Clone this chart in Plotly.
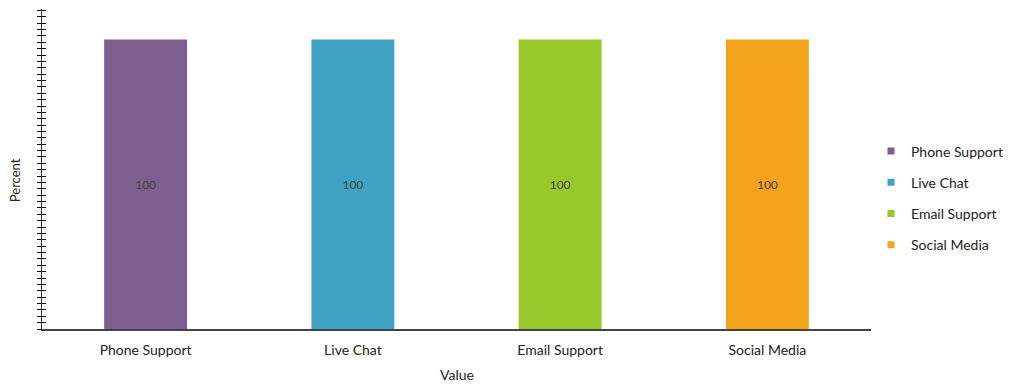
import plotly.graph_objects as go

categories = ["Phone Support", "Live Chat", "Email Support", "Social Media"]
values = [100, 100, 100, 100]
colors = ["#7B5F8E", "#3FA2C2", "#98C92A", "#F4A31C"]
x_title = "Value"
y_title = "Percent"

FONT = "Lato"
FS = 14
fig = go.Figure()
for cat, val, col in zip(categories, values, colors):
    fig.add_trace(go.Bar(
        x=[cat], y=[val], name=cat, marker=dict(color=col, line=dict(width=0)),
        width=0.4, text=[str(val)], textposition="inside", insidetextanchor="middle",
        textfont=dict(family=FONT, size=12, color="#444444"), showlegend=False,
        legendgroup=cat, hoverinfo="x+y",
    ))
    fig.add_trace(go.Scatter(
        x=[None], y=[None], mode="markers", name=cat, legendgroup=cat,
        marker=dict(symbol="square", size=7, color=col), showlegend=True,
    ))

fig.update_layout(
    width=1009, height=385,
    margin=dict(l=42, r=138, t=9, b=56, autoexpand=False),
    plot_bgcolor="white", paper_bgcolor="white",
    barmode="overlay",
    font=dict(family=FONT, size=FS, color="#222222"),
    legend=dict(xref="container", yref="container", x=871 / 1009, xanchor="left",
                y=1 - 198 / 385, yanchor="middle",
                font=dict(family=FONT, size=FS, color="#222222"),
                tracegroupgap=10, itemwidth=30),
    xaxis=dict(showgrid=False, showline=True, linecolor="#444444", linewidth=2,
               ticks="", ticklabelstandoff=7, automargin=False,
               tickfont=dict(family=FONT, size=FS, color="#222222")),
    yaxis=dict(range=[0, 110.5], dtick=2.2, tick0=0, showgrid=False, showline=True,
               linecolor="#333333", linewidth=1, ticks="outside", ticklen=4,
               tickcolor="#111111", showticklabels=False, zeroline=False,
               automargin=False),
    yaxis2=dict(range=[0, 110.5], dtick=2.2, tick0=0, overlaying="y", side="left",
                showgrid=False, showline=False, ticks="inside", ticklen=4,
                tickcolor="#111111", showticklabels=False, zeroline=False,
                automargin=False),
    annotations=[
        dict(text=x_title, xref="paper", yref="paper", x=0.5, y=-45 / 320,
             xanchor="center", yanchor="middle", showarrow=False,
             font=dict(family=FONT, size=FS, color="#222222")),
        dict(text=y_title, xref="paper", yref="paper", x=(15 - 42) / 829, y=0.465,
             xanchor="center", yanchor="middle", showarrow=False, textangle=-90,
             font=dict(family=FONT, size=13, color="#222222")),
    ],
)
fig.add_trace(go.Scatter(x=[categories[0]], y=[None], yaxis="y2", showlegend=False,
                         mode="markers", hoverinfo="skip"))
fig.write_html("out.html")
